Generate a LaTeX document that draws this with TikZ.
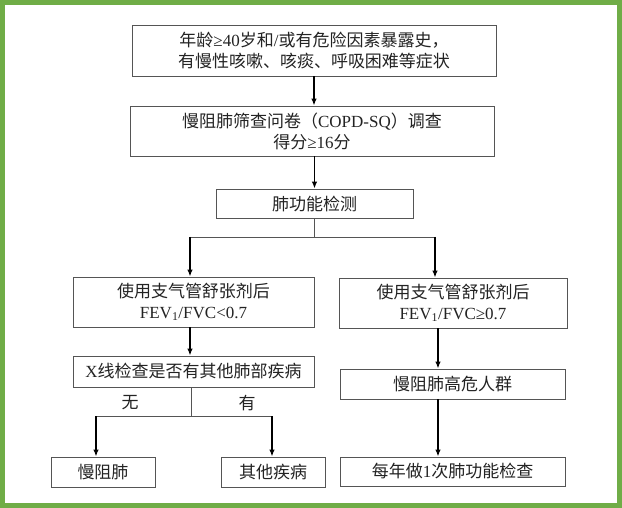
\documentclass[tikz,border=0pt]{standalone}
\usepackage{fontspec}
\setmainfont{Liberation Serif}
\newfontfamily\cjk{Noto Sans CJK SC}
\usetikzlibrary{arrows.meta}
\newcommand\zh[1]{{\cjk #1}}
\definecolor{framegreen}{RGB}{112,173,71}
\definecolor{boxline}{RGB}{85,85,85}
\definecolor{txt}{RGB}{35,35,35}
\begin{document}
\begin{tikzpicture}[x=1pt,y=-1pt,
  box/.style={draw=boxline, line width=0.9pt, fill=white, inner sep=0pt, align=center, text=txt, font=\fontsize{17}{21}\selectfont},
  arr/.style={-{Latex[length=7pt,width=5.5pt]}, line width=1.3pt, black},
  ln/.style={line width=0.9pt, boxline},
  lbl/.style={text=txt, font=\fontsize{17}{21}\selectfont, inner sep=0pt}]
\useasboundingbox (0,0) rectangle (622,508);
\fill[white] (0,0) rectangle (622,508);
\draw[framegreen, line width=4.6pt] (2.3,2.3) rectangle (619.7,505.7);

\node[box, minimum width=364pt, minimum height=51pt] (b1) at (314,50.5)
  {\zh{年龄}≥40\zh{岁和}/\zh{或有危险因素暴露史，}\\\zh{有慢性咳嗽、咳痰、呼吸困难等症状}};
\node[box, minimum width=364pt, minimum height=50pt] (b2) at (312,131)
  {\zh{慢阻肺筛查问卷（}COPD-SQ\zh{）调查}\\\zh{得分}≥16\zh{分}};
\node[box, minimum width=197pt, minimum height=29pt] (b3) at (314.5,203.5) {\zh{肺功能检测}};

\node[box, minimum width=241pt, minimum height=50pt] (L1) at (193.5,302)
  {\zh{使用支气管舒张剂后}\\FEV\textsubscript{1}/FVC<0.7};
\node[box, minimum width=228pt, minimum height=50pt] (R1) at (453,303)
  {\zh{使用支气管舒张剂后}\\FEV\textsubscript{1}/FVC≥0.7};

\node[box, minimum width=241pt, minimum height=31pt] (L2) at (193.5,371.5) {X\zh{线检查是否有其他肺部疾病}};
\node[box, minimum width=225pt, minimum height=30pt] (R2) at (452.5,384) {\zh{慢阻肺高危人群}};

\node[box, minimum width=104pt, minimum height=30pt] (L3a) at (103,472) {\zh{慢阻肺}};
\node[box, minimum width=104pt, minimum height=30pt] (L3b) at (273,472) {\zh{其他疾病}};
\node[box, minimum width=225pt, minimum height=29pt] (R3) at (452.5,471.5) {\zh{每年做}1\zh{次肺功能检查}};

\node[lbl] (wu) at (130,403) {\zh{无}};
\node[lbl] (you) at (247,403) {\zh{有}};

% connectors
\draw[arr] (b1.south) -- (b1.south |- b2.north);
\draw[arr] (b2.south -| b3.north) -- (b3.north);

\coordinate (j1) at (314.5,237);
\coordinate (jL) at (190,237);
\coordinate (jR) at (435,237);
\draw[ln] (b3.south) -- (j1);
\draw[ln] (jL) -- (jR);
\draw[arr] (jL) -- (jL |- L1.north);
\draw[arr] (jR) -- (jR |- R1.north);

\draw[arr] (L1.south -| jL) -- (L2.north -| jL);

\coordinate (j2) at (191,416);
\coordinate (j2L) at (96,416);
\coordinate (j2R) at (272,416);
\draw[ln] (L2.south -| j2) -- (j2);
\draw[ln] (j2L) -- (j2R);
\draw[arr] (j2L) -- (j2L |- L3a.north);
\draw[arr] (j2R) -- (j2R |- L3b.north);

\coordinate (rc) at (438,350);
\draw[arr] (R1.south -| rc) -- (R2.north -| rc);
\draw[arr] (R2.south -| rc) -- (R3.north -| rc);
\end{tikzpicture}
\end{document}
